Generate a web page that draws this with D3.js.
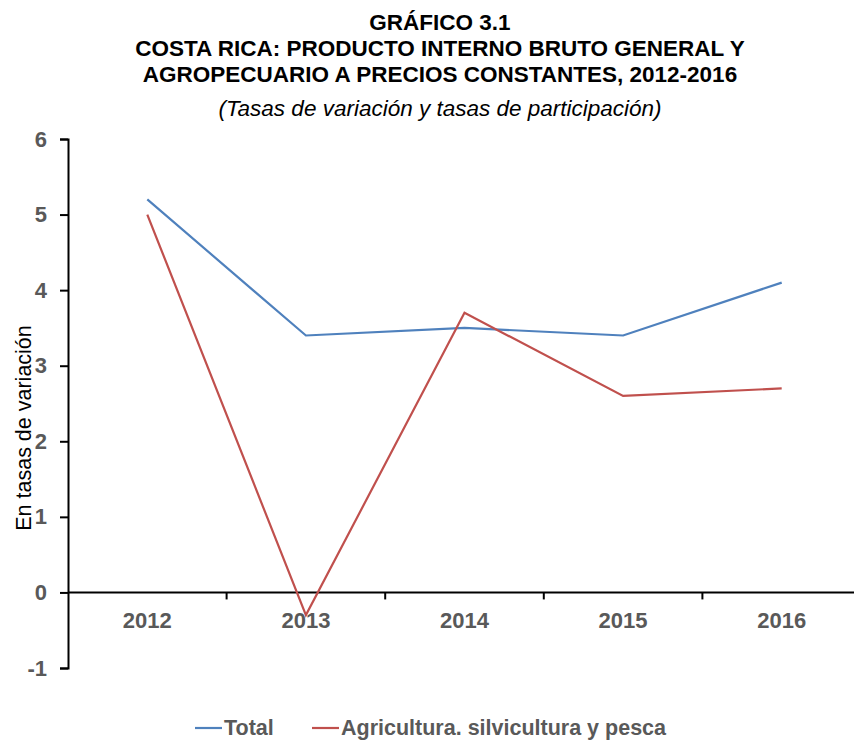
<!DOCTYPE html>
<html>
<head>
<meta charset="utf-8">
<script src="https://cdn.jsdelivr.net/npm/d3@7"></script>
<style>
  body { margin: 0; background: #fff; }
  svg { display: block; font-family: "Liberation Sans", Arial, sans-serif; }
</style>
</head>
<body>
<div id="chart"></div>
<script>
var years = ["2012", "2013", "2014", "2015", "2016"];
var total = [5.2, 3.4, 3.5, 3.4, 4.1];
var agro = [5.0, -0.3, 3.7, 2.6, 2.7];
var yTicks = [-1, 0, 1, 2, 3, 4, 5, 6];
var seriesNames = ["Total", "Agricultura. silvicultura y pesca"];
var colors = ["#4F81BD", "#C0504D"];

var width = 854, height = 740;
var svg = d3.select("#chart").append("svg")
    .attr("width", width)
    .attr("height", height);

// titles
var titles = ["GRÁFICO 3.1",
    "COSTA RICA: PRODUCTO INTERNO BRUTO GENERAL Y",
    "AGROPECUARIO A PRECIOS CONSTANTES, 2012-2016"];
svg.selectAll("text.title")
    .data(titles)
    .enter().append("text")
    .attr("class", "title")
    .attr("x", 440)
    .attr("y", function(d, i){ return 30 + i * 26; })
    .attr("text-anchor", "middle")
    .attr("font-weight", "bold")
    .attr("font-size", 22.5)
    .text(function(d){ return d; });

svg.append("text")
    .attr("x", 440)
    .attr("y", 116)
    .attr("text-anchor", "middle")
    .attr("font-style", "italic")
    .attr("font-size", 22.5)
    .text("(Tasas de variación y tasas de participación)");

var x = d3.scaleBand().domain(years).range([68, 861]);
var y = d3.scaleLinear().domain([-1, 6]).range([668, 139]);

// y axis
var yAxis = svg.append("g")
    .attr("transform", "translate(68,0)")
    .call(d3.axisLeft(y).tickValues(yTicks).tickSize(8).tickPadding(13)
        .tickFormat(function(d){ return String(d); }));
yAxis.select(".domain").attr("stroke", "#000").attr("stroke-width", 2);
yAxis.selectAll(".tick line").attr("stroke", "#000").attr("stroke-width", 2);
yAxis.selectAll(".tick text")
    .attr("fill", "#595959")
    .attr("font-size", 22)
    .attr("font-weight", "bold")
    .attr("font-family", "Liberation Sans, Arial, sans-serif");

// x axis at zero
var xAxisG = svg.append("g").attr("transform", "translate(0," + y(0) + ")");
xAxisG.append("line")
    .attr("x1", 68).attr("x2", width)
    .attr("stroke", "#000").attr("stroke-width", 2);
xAxisG.selectAll("line.tk")
    .data(years.slice(1).concat(["end"]))
    .enter().append("line")
    .attr("class", "tk")
    .attr("x1", function(d, i){ return x.range()[0] + (i + 1) * x.bandwidth(); })
    .attr("x2", function(d, i){ return x.range()[0] + (i + 1) * x.bandwidth(); })
    .attr("y1", 0).attr("y2", 7)
    .attr("stroke", "#000").attr("stroke-width", 2);
xAxisG.selectAll("text")
    .data(years)
    .enter().append("text")
    .attr("x", function(d){ return x(d) + x.bandwidth() / 2; })
    .attr("y", 36)
    .attr("text-anchor", "middle")
    .attr("fill", "#595959")
    .attr("font-size", 22)
    .attr("font-weight", "bold")
    .text(function(d){ return d; });

// y label
svg.append("text")
    .attr("transform", "translate(31,428) rotate(-90)")
    .attr("text-anchor", "middle")
    .attr("font-size", 21.5)
    .text("En tasas de variación");

// lines
var line = d3.line()
    .x(function(d, i){ return x(years[i]) + x.bandwidth() / 2; })
    .y(function(d){ return y(d); });

[total, agro].forEach(function(s, k){
    svg.append("path")
        .datum(s)
        .attr("fill", "none")
        .attr("stroke", colors[k])
        .attr("stroke-width", 2.2)
        .attr("d", line);
});

// legend
var legendX = [195, 312];
seriesNames.forEach(function(n, k){
    var g = svg.append("g").attr("transform", "translate(" + legendX[k] + ",728)");
    g.append("line").attr("x1", 0).attr("x2", 27).attr("y1", 0).attr("y2", 0)
        .attr("stroke", colors[k]).attr("stroke-width", 2.2);
    g.append("text").attr("x", 29).attr("y", 7)
        .attr("fill", "#595959")
        .attr("font-size", 21.5)
        .attr("font-weight", "bold")
        .text(n);
});
</script>
</body>
</html>
